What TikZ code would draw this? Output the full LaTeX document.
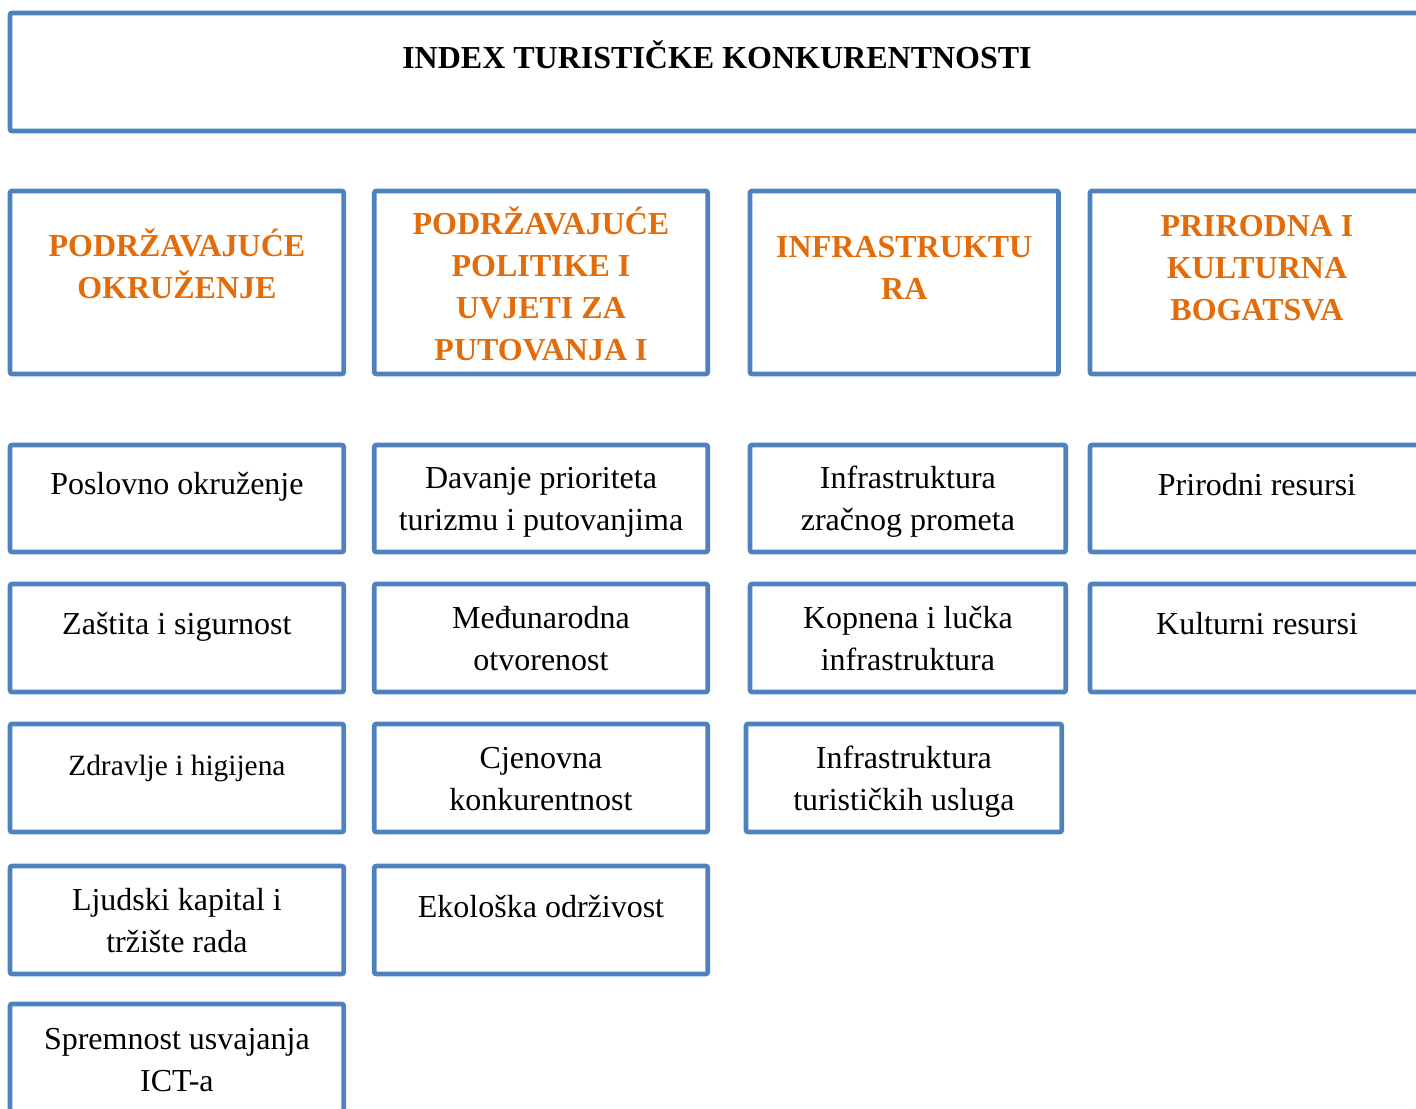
\documentclass[tikz,border=0pt]{standalone}
\usepackage{fontspec}
\setmainfont{Liberation Serif}
\definecolor{boxblue}{HTML}{4F81BD}
\definecolor{headorange}{HTML}{E36C0A}

\begin{document}
\begin{tikzpicture}
[x=0.5pt,y=-0.5pt,
frame/.style={rectangle,draw=boxblue,line width=2.35pt,rounded corners=1pt,inner sep=0pt},
heading/.style={anchor=base,align=center,inner sep=0pt,text=headorange,font=\fontsize{16}{21}\selectfont\bfseries},
item/.style={anchor=base,align=center,inner sep=0pt,font=\fontsize{16}{21}\selectfont}]
\useasboundingbox (0,0) rectangle (1416,1108);
\clip (0,0) rectangle (1416,1108);

% title
\node[frame,minimum width=706.5pt,minimum height=59pt] (index) at (716.5,72) {};
\node[item,font=\fontsize{16}{21}\selectfont\bfseries] (index text) at (717,68) {INDEX TURISTIČKE KONKURENTNOSTI};

% pillars (text placed at the baseline of the last line)
\node[frame,minimum width=166.85pt,minimum height=91.5pt] (enabling) at (176.9,282.5) {};
\node[frame,minimum width=166.7pt,minimum height=91.5pt] (policy) at (541,282.5) {};
\node[frame,minimum width=154.25pt,minimum height=91.5pt] (infra) at (904.25,282.5) {};
\node[frame,minimum width=167pt,minimum height=91.5pt] (resources) at (1257,282.5) {};
\node[heading] (enabling text) at (176.9,298) {PODRŽAVAJUĆE\\OKRUŽENJE};
\node[heading] (policy text) at (541,360) {PODRŽAVAJUĆE\\POLITIKE I\\UVJETI ZA\\PUTOVANJA I};
\node[heading] (infra text) at (904.25,299) {INFRASTRUKTU\\RA};
\node[heading] (resources text) at (1257,320) {PRIRODNA I\\KULTURNA\\BOGATSVA};

% column 1
\node[frame,minimum width=166.85pt,minimum height=53.5pt] (business) at (176.9,498.5) {};
\node[frame,minimum width=166.85pt,minimum height=54pt] (safety) at (176.9,638) {};
\node[frame,minimum width=166.85pt,minimum height=54pt] (health) at (176.9,778) {};
\node[frame,minimum width=166.85pt,minimum height=54pt] (labour) at (176.9,920) {};
\node[frame,minimum width=166.85pt,minimum height=54pt] (ict) at (176.9,1058) {};
\node[item] (business text) at (176.9,494) {Poslovno okruženje};
\node[item] (safety text) at (176.9,634) {Zaštita i sigurnost};
\node[item,font=\fontsize{14.7}{21}\selectfont] (health text) at (176.9,775) {Zdravlje i higijena};
\node[item] (labour text) at (176.9,952) {Ljudski kapital i\\tržište rada};
\node[item] (ict text) at (176.9,1091) {Spremnost usvajanja\\ICT-a};

% column 2
\node[frame,minimum width=166.7pt,minimum height=53.5pt] (priority) at (541,498.5) {};
\node[frame,minimum width=166.7pt,minimum height=54pt] (openness) at (541,638) {};
\node[frame,minimum width=166.7pt,minimum height=54pt] (price) at (541,778) {};
\node[frame,minimum width=166.7pt,minimum height=54pt] (environment) at (541,920) {};
\node[item] (priority text) at (541,530) {Davanje prioriteta\\turizmu i putovanjima};
\node[item] (openness text) at (541,670) {Međunarodna\\otvorenost};
\node[item] (price text) at (541,810) {Cjenovna\\konkurentnost};
\node[item] (environment text) at (541,917) {Ekološka održivost};

% column 3
\node[frame,minimum width=157.85pt,minimum height=53.5pt] (air) at (907.9,498.5) {};
\node[frame,minimum width=157.85pt,minimum height=54pt] (ground) at (907.9,638) {};
\node[frame,minimum width=157.85pt,minimum height=54pt] (services) at (903.9,778) {};
\node[item] (air text) at (907.9,530) {Infrastruktura\\zračnog prometa};
\node[item] (ground text) at (907.9,670) {Kopnena i lučka\\infrastruktura};
\node[item] (services text) at (903.9,810) {Infrastruktura\\turističkih usluga};

% column 4
\node[frame,minimum width=167pt,minimum height=53.5pt] (natural) at (1257,498.5) {};
\node[frame,minimum width=167pt,minimum height=54pt] (cultural) at (1257,638) {};
\node[item] (natural text) at (1257,495) {Prirodni resursi};
\node[item] (cultural text) at (1257,634) {Kulturni resursi};
\end{tikzpicture}
\end{document}
